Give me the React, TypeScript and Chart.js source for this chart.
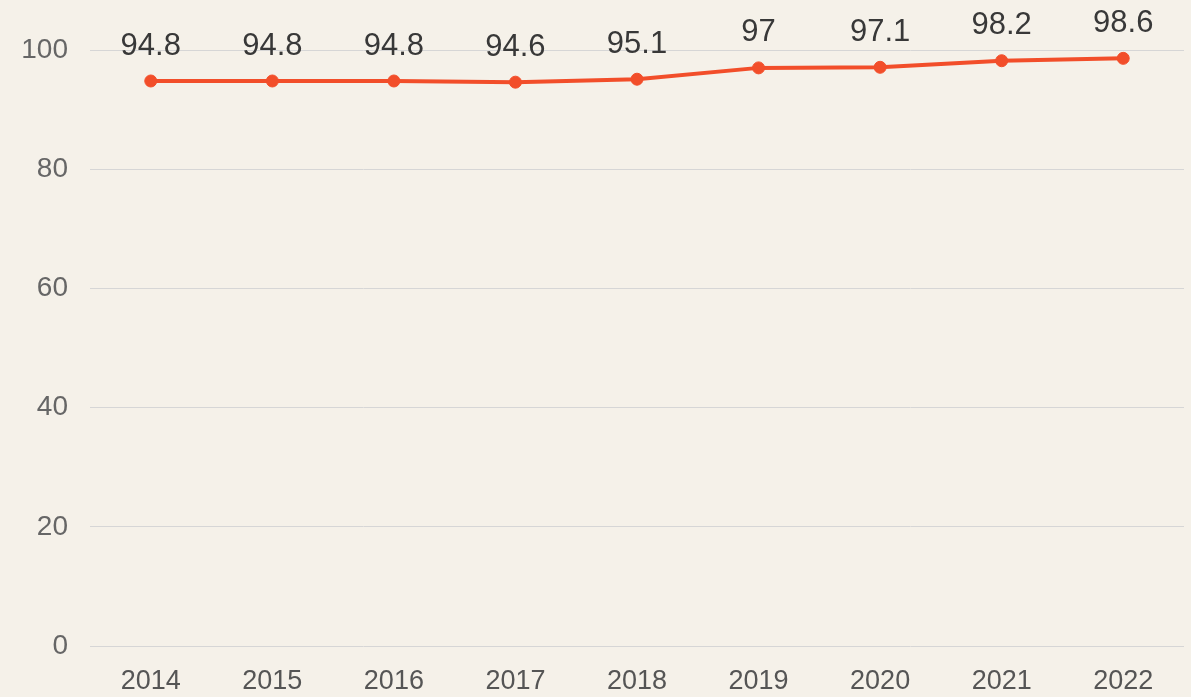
import React, { useEffect, useRef } from "react";
import { Chart, registerables } from "chart.js";

Chart.register(...registerables);

const years = ["2014", "2015", "2016", "2017", "2018", "2019", "2020", "2021", "2022"];
const values = [94.8, 94.8, 94.8, 94.6, 95.1, 97, 97.1, 98.2, 98.6];
const yTicks = [0, 20, 40, 60, 80, 100];

const BG = "#F5F1E9";
const LINE = "#F24E2A";
const FONT = "'Liberation Sans', Arial, sans-serif";

const valueLabels = {
  id: "valueLabels",
  afterDatasetsDraw(chart: any) {
    const ctx = chart.ctx;
    const meta = chart.getDatasetMeta(0);
    ctx.save();
    ctx.font = "31px " + FONT;
    ctx.fillStyle = "#383838";
    ctx.textAlign = "center";
    ctx.textBaseline = "middle";
    meta.data.forEach((pt: any, i: number) => {
      ctx.fillText(String(values[i]), pt.x, pt.y - 35);
    });
    ctx.restore();
  },
};

export default function App() {
  const ref = useRef<HTMLCanvasElement | null>(null);
  useEffect(() => {
    document.body.style.margin = "0";
    document.body.style.background = BG;
    const chart = new Chart(ref.current!, {
      type: "line",
      data: {
        labels: years,
        datasets: [
          {
            data: values,
            borderColor: LINE,
            backgroundColor: LINE,
            borderWidth: 4,
            pointRadius: 6,
            pointBackgroundColor: LINE,
            pointBorderColor: LINE,
            pointBorderWidth: 1,
            tension: 0,
          },
        ],
      },
      options: {
        animation: false,
        responsive: false,
        maintainAspectRatio: false,
        layout: { padding: { top: 50, right: 5, bottom: 0, left: 0 } },
        plugins: { legend: { display: false }, tooltip: { enabled: false } },
        scales: {
          x: {
            offset: true,
            grid: { display: false, drawTicks: false },
            border: { display: false },
            afterFit: (scale: any) => {
              scale.height = 51;
            },
            ticks: {
              color: "#555555",
              font: { family: FONT, size: 27 },
              padding: 19,
              maxRotation: 0,
            },
          },
          y: {
            min: 0,
            max: 100,
            afterBuildTicks: (scale: any) => {
              scale.ticks = yTicks.map((v) => ({ value: v }));
            },
            afterFit: (scale: any) => {
              scale.width = 90;
            },
            grid: { color: "#D6D6D6", lineWidth: 1, drawTicks: false },
            border: { display: false },
            ticks: {
              color: "#666666",
              font: { family: FONT, size: 28 },
              padding: 22,
            },
          },
        },
      },
      plugins: [valueLabels],
    });
    return () => chart.destroy();
  }, []);
  return (
    <div style={{ width: 1191, height: 697, background: BG }}>
      <canvas ref={ref} width={1191} height={697} style={{ display: "block" }} />
    </div>
  );
}
